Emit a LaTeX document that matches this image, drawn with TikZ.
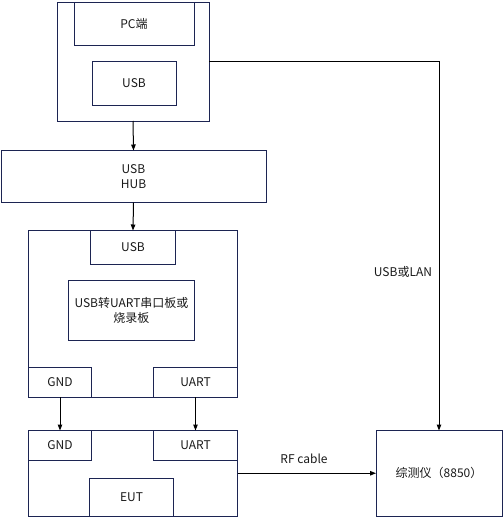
\documentclass[tikz,border=0pt]{standalone}
\usepackage{fontspec}
\setmainfont{Noto Sans CJK SC}
\usetikzlibrary{arrows.meta}
\definecolor{navy}{HTML}{1C2452}
\tikzset{
  box/.style={draw=navy, line width=1pt, inner sep=0pt, outer sep=0pt, anchor=north west, align=center, font=\fontsize{12}{15}\selectfont, text=black!90},
  arr/.style={draw=black, line width=1pt, -{Triangle[length=6pt,width=4.5pt]}},
  lbl/.style={font=\fontsize{12}{15}\selectfont, text=black!90, inner sep=0pt}
}
\begin{document}
\begin{tikzpicture}[x=1pt,y=-1pt]
\useasboundingbox (0,0) rectangle (503,517);
% PC
\node[box, minimum width=152pt, minimum height=119pt] (pco) at (57,2) {};
\node[box, minimum width=120pt, minimum height=43pt] (pc) at (74,2) {PC端};
\node[box, minimum width=84pt, minimum height=44pt] (pcusb) at (92,61) {USB};
% HUB
\node[box, minimum width=265pt, minimum height=52pt] (hub) at (1,150.5) {USB\\HUB};
% middle board
\node[box, minimum width=209pt, minimum height=166.5pt] (mid) at (28.5,230.5) {};
\node[box, minimum width=85pt, minimum height=34pt] (midusb) at (90.5,230.5) {USB};
\node[box, minimum width=126pt, minimum height=60pt] (conv) at (68.5,280.5) {USB转UART串口板或\\烧录板};
\node[box, minimum width=63pt, minimum height=29.5pt] (gnd1) at (28.5,367.5) {GND};
\node[box, minimum width=84pt, minimum height=29.5pt] (uart1) at (153.5,367.5) {UART};
% EUT board
\node[box, minimum width=209pt, minimum height=85.5pt] (eo) at (28.5,430.5) {};
\node[box, minimum width=63pt, minimum height=29.5pt] (gnd2) at (28.5,430.5) {GND};
\node[box, minimum width=84pt, minimum height=29.5pt] (uart2) at (153.5,430.5) {UART};
\node[box, minimum width=84pt, minimum height=37.5pt] (eut) at (89.5,478.5) {EUT};
% tester
\node[box, minimum width=126pt, minimum height=85.5pt] (tester) at (376,430.5) {综测仪（8850）};
% connectors
\draw[arr] (pco.south) -- (hub.north);
\draw[arr] (hub.south) -- (mid.north);
\draw[arr] (gnd1.south) -- (gnd2.north);
\draw[arr] (uart1.south) -- (uart2.north);
\draw[arr] (pco.east) -| (tester.north);
\draw[arr] (eo.east) -- (tester.west);
\node[lbl] (lan) at (403,272) {USB或LAN};
\node[lbl] (rf) at (304,459) {RF cable};
\end{tikzpicture}
\end{document}
